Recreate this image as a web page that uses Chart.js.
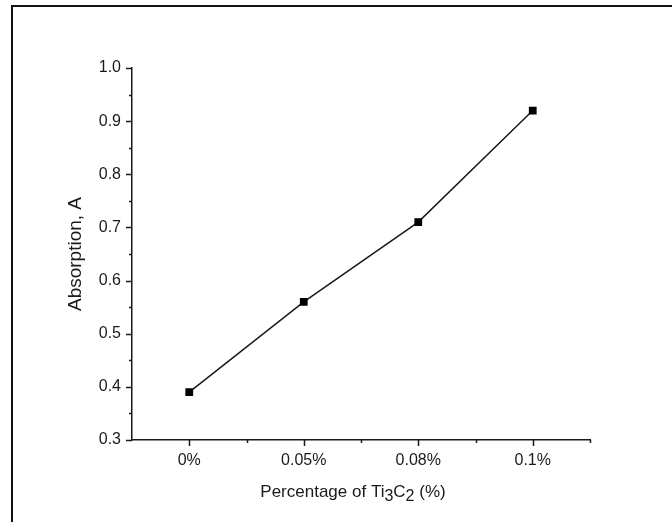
<!DOCTYPE html>
<html>
<head>
<meta charset="utf-8">
<script src="https://cdn.jsdelivr.net/npm/chart.js@4.4.1/dist/chart.umd.min.js"></script>
<style>
  html, body { margin: 0; padding: 0; background: #fff; }
  #wrap { width: 672px; height: 522px; }
</style>
</head>
<body>
<div id="wrap"><canvas id="absorption-chart" width="672" height="522"></canvas></div>
<script>
const categories = ["0%", "0.05%", "0.08%", "0.1%"];
const absorption = [0.39, 0.56, 0.71, 0.92];
const yMin = 0.3;
const yMax = 1.0;
const yStep = 0.1;

const FONT = "'Liberation Sans', Arial, sans-serif";
const INK = "#1a1a1a";

// frame, tick marks (major + minor) and axis titles
const decorations = {
	id: "decorations",
	afterDraw(chart) {
		const ctx = chart.ctx;
		const xs = chart.scales.x;
		const ys = chart.scales.y;
		const area = chart.chartArea;
		ctx.save();

		// outer frame, top and left only
		ctx.fillStyle = "#111";
		ctx.fillRect(11, 5, 661, 2);
		ctx.fillRect(11, 5, 2, 517);

		ctx.strokeStyle = INK;
		ctx.lineWidth = 1.5;
		ctx.beginPath();
		// y ticks
		ys.ticks.forEach((t) => {
			const py = Math.round(ys.getPixelForValue(t.value)) + 0.5;
			ctx.moveTo(area.left - 6, py);
			ctx.lineTo(area.left, py);
			const mid = t.value + yStep / 2;
			if (mid < yMax) {
				const my = Math.round(ys.getPixelForValue(mid)) + 0.5;
				ctx.moveTo(area.left - 3, my);
				ctx.lineTo(area.left, my);
			}
		});
		// x ticks at categories, minor ones on boundaries
		categories.forEach((c, i) => {
			const px = Math.round(xs.getPixelForValue(i)) + 0.5;
			ctx.moveTo(px, area.bottom);
			ctx.lineTo(px, area.bottom + 6);
			const bx = Math.round(xs.getPixelForValue(i + 0.5)) + 0.5;
			ctx.moveTo(bx, area.bottom);
			ctx.lineTo(bx, area.bottom + 3);
		});
		ctx.stroke();

		ctx.fillStyle = INK;
		ctx.textBaseline = "middle";

		// y title
		ctx.save();
		ctx.translate(76, (area.top + area.bottom) / 2);
		ctx.rotate(-Math.PI / 2);
		ctx.font = "19px " + FONT;
		ctx.textAlign = "center";
		ctx.fillText("Absorption, A", 0, 0);
		ctx.restore();

		// x title with subscripts
		const parts = [
			["Percentage of Ti", 0],
			["3", 1],
			["C", 0],
			["2", 1],
			[" (%)", 0],
		];
		const big = "17px " + FONT;
		const small = "16px " + FONT;
		let total = 0;
		parts.forEach(([s, sub]) => {
			ctx.font = sub ? small : big;
			total += ctx.measureText(s).width;
		});
		let cx = 353 - total / 2;
		const ty = 492;
		ctx.textAlign = "left";
		parts.forEach(([s, sub]) => {
			ctx.font = sub ? small : big;
			ctx.fillText(s, cx, sub ? ty + 5 : ty);
			cx += ctx.measureText(s).width;
		});

		ctx.restore();
	},
};

const ctx = document.getElementById("absorption-chart").getContext("2d");

const chart = new Chart(ctx, {
	type: "line",
	data: {
		labels: categories,
		datasets: [
			{
				data: absorption,
				borderColor: INK,
				borderWidth: 1.5,
				backgroundColor: "#000",
				pointStyle: "rect",
				pointRadius: 5.5,
				pointBorderWidth: 0,
				pointBorderColor: "#000",
				tension: 0,
				fill: false,
			},
		],
	},
	options: {
		responsive: false,
		animation: false,
		layout: { padding: { top: 68, right: 82, left: 0, bottom: 0 } },
		plugins: {
			legend: { display: false },
			tooltip: { enabled: false },
		},
		scales: {
			x: {
				type: "category",
				offset: true,
				grid: { display: false },
				border: { display: true, color: INK, width: 1.5 },
				ticks: {
					color: INK,
					padding: 3,
					font: { family: FONT, size: 16 },
					maxRotation: 0,
				},
				afterFit(scale) {
					scale.height = 82;
				},
			},
			y: {
				min: yMin,
				max: yMax,
				grid: { display: false },
				border: { display: true, color: INK, width: 1.5 },
				ticks: {
					stepSize: yStep,
					color: INK,
					padding: 3,
					font: { family: FONT, size: 16 },
					callback: (v) => v.toFixed(1),
				},
				afterFit(scale) {
					scale.width = 132;
				},
			},
		},
	},
	plugins: [decorations],
});
</script>
</body>
</html>
